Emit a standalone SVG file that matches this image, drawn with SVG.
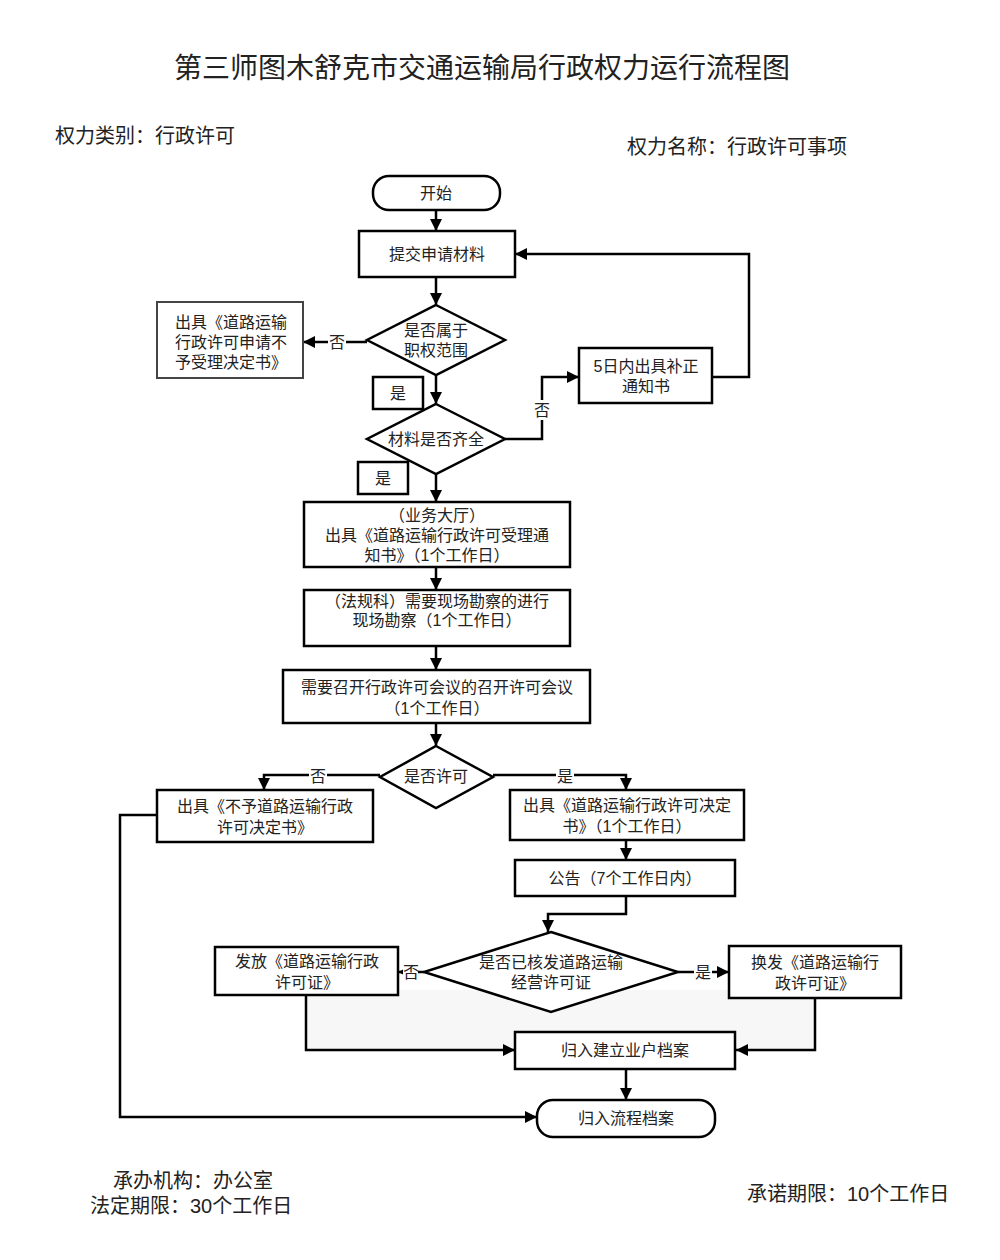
<svg xmlns="http://www.w3.org/2000/svg" width="1000" height="1260" viewBox="0 0 1000 1260">
<defs>
<marker id="ah" markerUnits="userSpaceOnUse" markerWidth="12" markerHeight="12" viewBox="0 0 12 12" refX="12" refY="6" orient="auto">
<path d="M0,0 L12,6 L0,12 Z" fill="#000"/>
</marker>
</defs>
<style>
text{font-family:"Liberation Sans","Noto Sans CJK SC",sans-serif;fill:#222;}
.t{font-size:16px;text-anchor:middle;}
.h{font-size:20px;}
.title{font-size:28px;text-anchor:middle;}
.box{fill:#fff;stroke:#000;stroke-width:2.5;}
.gbox{fill:#fff;stroke:#444;stroke-width:2;}
.c{fill:none;stroke:#000;stroke-width:2.5;marker-end:url(#ah);}
.lb{fill:#fff;stroke:none;}
</style>
<rect width="1000" height="1260" fill="#fff"/>
<rect x="306" y="990" width="509" height="62" fill="#f7f7f7"/>
<text class="title" x="482" y="78">第三师图木舒克市交通运输局行政权力运行流程图</text>
<text class="h" x="55" y="143">权力类别：行政许可</text>
<text class="h" x="627" y="154">权力名称：行政许可事项</text>

<g id="connectors">
<path class="c" d="M436,210 V231"/>
<path class="c" d="M436,277 V305"/>
<path class="c" d="M367,342 H303"/>
<path class="c" d="M436,375 V404"/>
<path class="c" d="M505,439 H542 V377 H579"/>
<path class="c" d="M712,377 H749 V254 H515"/>
<path class="c" d="M436,474 V502"/>
<path class="c" d="M436,567 V590"/>
<path class="c" d="M436,646 V670"/>
<path class="c" d="M436,723 V746"/>
<path class="c" d="M380,775 H264 V790"/>
<path class="c" d="M493,775 H626 V790"/>
<path class="c" d="M626,840 V860"/>
<path class="c" d="M626,896 V914 H548 V932"/>
<path class="c" d="M424,972 H398"/>
<path class="c" d="M678,972 H729"/>
<path class="c" d="M306,995 V1050 H515"/>
<path class="c" d="M815,998 V1050 H736"/>
<path class="c" d="M626,1069 V1100"/>
<path class="c" d="M157,815 H120 V1117 H537"/>
<rect class="lb" x="328" y="333" width="18" height="18"/>
<text class="t" x="337" y="348">否</text>
<rect class="lb" x="533" y="400" width="18" height="20"/>
<text class="t" x="542" y="416">否</text>
<rect class="lb" x="309" y="767" width="18" height="17"/>
<text class="t" x="318" y="782">否</text>
<rect class="lb" x="556" y="767" width="18" height="17"/>
<text class="t" x="565" y="782">是</text>
<rect class="lb" x="403" y="964" width="15" height="17"/>
<text class="t" x="411" y="978">否</text>
<rect class="lb" x="694" y="964" width="18" height="17"/>
<text class="t" x="703" y="978">是</text>
</g>

<g id="start"><rect class="box" x="373" y="176" width="127" height="34" rx="16"/><text class="t" x="436" y="199">开始</text></g>
<g id="submit"><rect class="box" x="359" y="231" width="156" height="46"/><text class="t" x="437" y="260">提交申请材料</text></g>
<g id="d-scope"><path class="box" d="M436,305 L505,340 L436,375 L367,340 Z"/><text class="t" x="436" y="336"><tspan x="436">是否属于</tspan><tspan x="436" dy="20">职权范围</tspan></text></g>
<g id="reject1"><rect class="gbox" x="157" y="302" width="146" height="76"/><text class="t" x="231" y="328"><tspan x="231">出具《道路运输</tspan><tspan x="231" dy="20">行政许可申请不</tspan><tspan x="231" dy="20">予受理决定书》</tspan></text></g>
<g id="yes1"><rect class="box" x="373" y="377" width="50" height="32"/><text class="t" x="398" y="399">是</text></g>
<g id="d-complete"><path class="box" d="M436,404 L505,439 L436,474 L367,439 Z"/><text class="t" x="436" y="445">材料是否齐全</text></g>
<g id="supplement"><rect class="box" x="579" y="348" width="133" height="55"/><text class="t" x="646" y="372"><tspan x="646">5日内出具补正</tspan><tspan x="646" dy="20">通知书</tspan></text></g>
<g id="yes2"><rect class="box" x="358" y="462" width="50" height="32"/><text class="t" x="383" y="484">是</text></g>
<g id="accept"><rect class="box" x="304" y="502" width="266" height="65"/><text class="t" x="437" y="521"><tspan x="437">（业务大厅）</tspan><tspan x="437" dy="20">出具《道路运输行政许可受理通</tspan><tspan x="437" dy="20">知书》（1个工作日）</tspan></text></g>
<g id="survey"><rect class="box" x="304" y="590" width="266" height="56"/><text class="t" x="437" y="607"><tspan x="437">（法规科）需要现场勘察的进行</tspan><tspan x="437" dy="19">现场勘察（1个工作日）</tspan></text></g>
<g id="meeting"><rect class="box" x="283" y="670" width="307" height="53"/><text class="t" x="437" y="693"><tspan x="437">需要召开行政许可会议的召开许可会议</tspan><tspan x="437" dy="21">（1个工作日）</tspan></text></g>
<g id="d-permit"><path class="box" d="M436,746 L493,777 L436,808 L380,777 Z"/><text class="t" x="436" y="782">是否许可</text></g>
<g id="deny"><rect class="box" x="157" y="790" width="216" height="52"/><text class="t" x="265" y="812"><tspan x="265">出具《不予道路运输行政</tspan><tspan x="265" dy="21">许可决定书》</tspan></text></g>
<g id="decision"><rect class="box" x="510" y="790" width="234" height="50"/><text class="t" x="627" y="811"><tspan x="627">出具《道路运输行政许可决定</tspan><tspan x="627" dy="21">书》（1个工作日）</tspan></text></g>
<g id="notice"><rect class="box" x="515" y="860" width="220" height="36"/><text class="t" x="625" y="884">公告（7个工作日内）</text></g>
<g id="d-issued"><path class="box" d="M551,932 L678,972 L551,1012 L424,972 Z"/><text class="t" x="551" y="968"><tspan x="551">是否已核发道路运输</tspan><tspan x="551" dy="20">经营许可证</tspan></text></g>
<g id="issue"><rect class="box" x="215" y="947" width="183" height="48"/><text class="t" x="307" y="967"><tspan x="307">发放《道路运输行政</tspan><tspan x="307" dy="21">许可证》</tspan></text></g>
<g id="reissue"><rect class="box" x="729" y="946" width="172" height="52"/><text class="t" x="815" y="968"><tspan x="815">换发《道路运输行</tspan><tspan x="815" dy="21">政许可证》</tspan></text></g>
<g id="archive1"><rect class="box" x="515" y="1032" width="220" height="37"/><text class="t" x="625" y="1056">归入建立业户档案</text></g>
<g id="archive2"><rect class="box" x="537" y="1100" width="178" height="37" rx="16"/><text class="t" x="626" y="1124">归入流程档案</text></g>

<text class="h" x="113" y="1188">承办机构：办公室</text>
<text class="h" x="90" y="1213">法定期限：30个工作日</text>
<text class="h" x="747" y="1201">承诺期限：10个工作日</text>
</svg>
